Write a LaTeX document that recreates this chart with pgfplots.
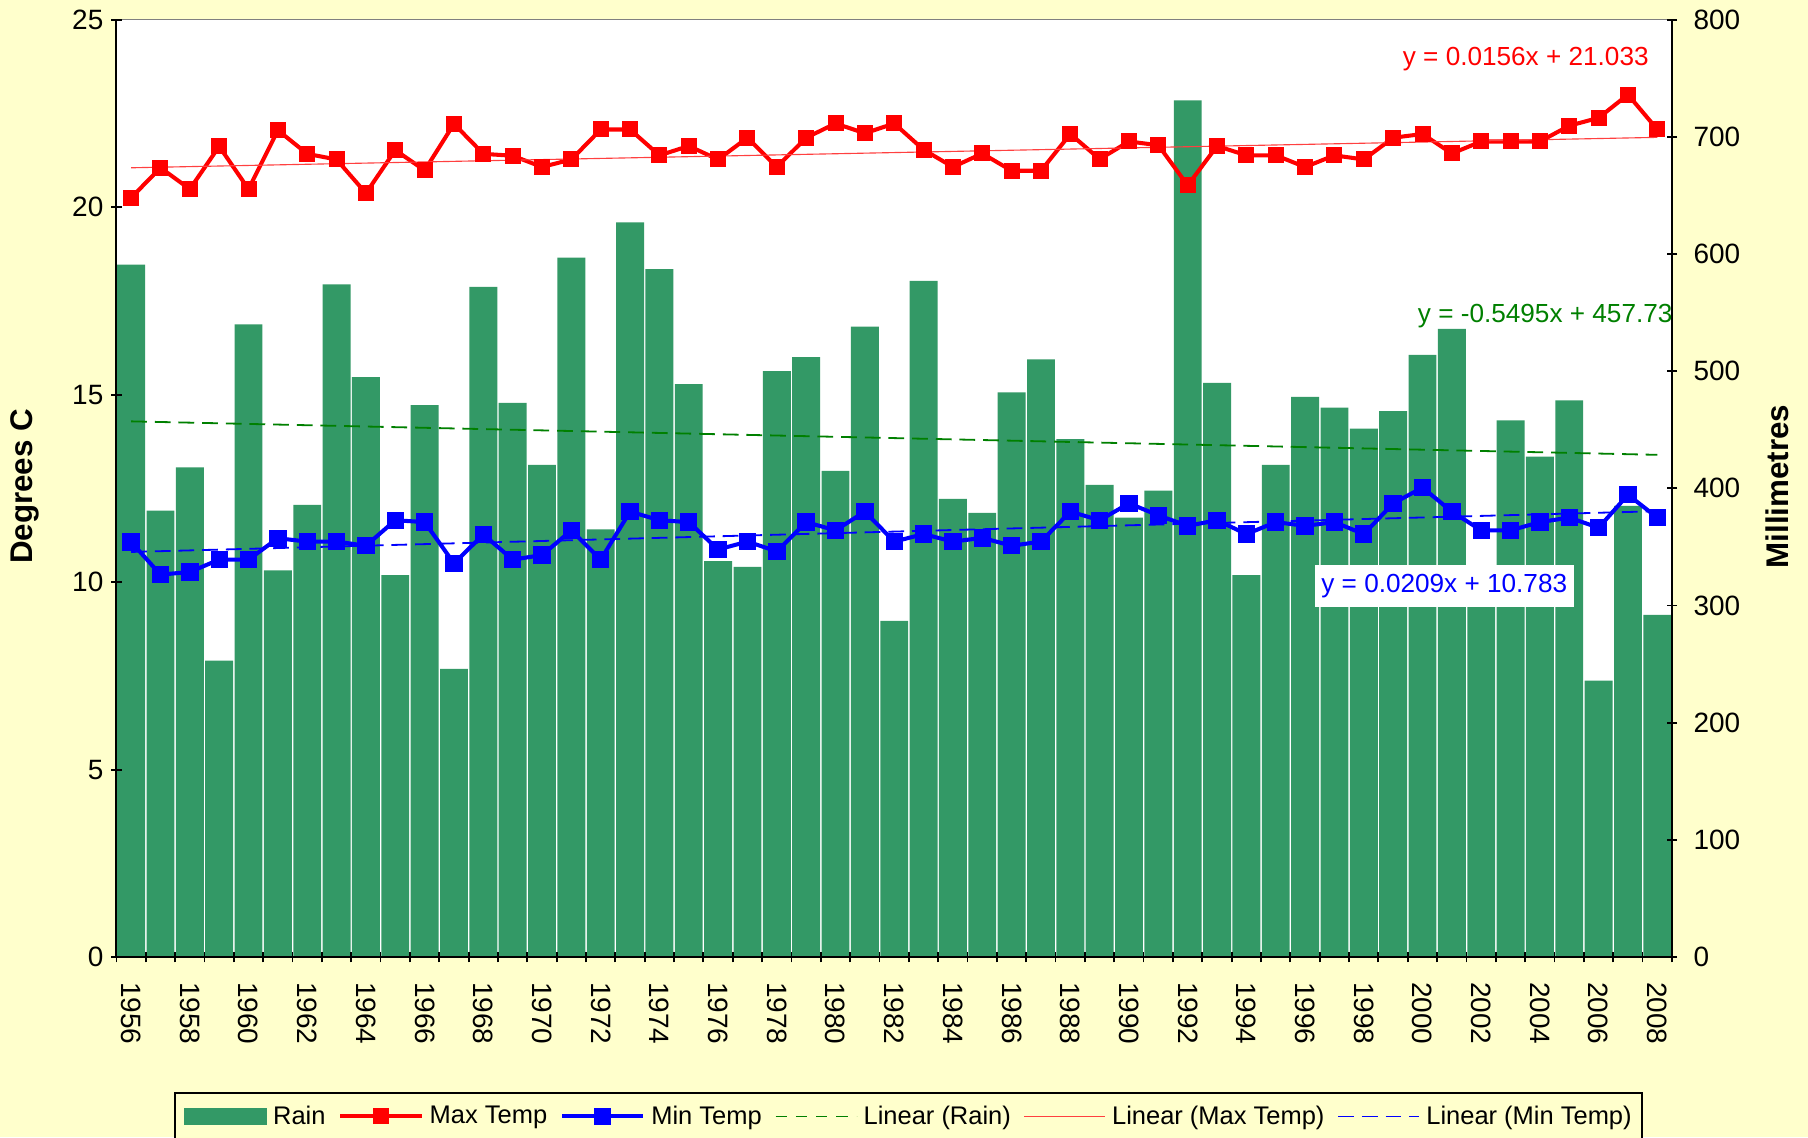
\documentclass[border=0pt]{standalone}
\usepackage{fontspec}
\setmainfont{Liberation Sans}
\usepackage{pgfplots}
\pgfplotsset{compat=1.18}

\definecolor{bgyellow}{HTML}{FFFFCC}
\definecolor{raingreen}{HTML}{339966}
\definecolor{trendgreen}{HTML}{008000}
\definecolor{maxred}{HTML}{FF0000}
\definecolor{minblue}{HTML}{0000FF}

\pgfplotsset{
  every non boxed x axis/.append style={x axis line style={-}},
  every non boxed y axis/.append style={y axis line style={-}},
  common/.style={
    at={(0,0)}, anchor=south west,
    scale only axis, width=690pt, height=415.85pt,
    xmin=1955.5, xmax=2008.5,
    tick align=outside,
    major tick length=4.6pt,
    minor tick length=4.6pt,
    tick style={black, line width=0.8pt},
    minor tick style={black, line width=0.8pt},
    /pgf/number format/assume math mode=true,
    tick label style={font=\fontsize{12.4}{14}\selectfont},
  },
  nolines/.style={
    axis line style={black, line width=0.9pt, -},
    x axis line style={-}, y axis line style={-},
    every outer x axis line/.append style={-},
    every outer y axis line/.append style={-},
  },
}

\begin{document}
\begin{tikzpicture}
\fill[bgyellow] (-51.66pt,-79.8pt) rectangle (750.34pt,424.55pt);

% rain, right axis
\begin{axis}[common,
  ymin=0, ymax=800, ytick={0,100,...,800},
  axis x line=bottom, axis y line=right,
  nolines,
  axis on top,
  axis background/.style={fill=white},
  xtick={1956,1958,...,2008},
  minor xtick={1955.5,1956.5,...,2008.5},
  every major x tick/.append style={draw=none},
  xticklabel style={rotate=-90, anchor=west, inner xsep=8.7pt, /pgf/number format/1000 sep={}},
  yticklabel style={inner xsep=7.1pt},
  ylabel={Millimetres},
  every axis y label/.style={at={(axis description cs:1.0675,0.502)}, rotate=90, anchor=center,
    font=\fontsize{13.9}{16}\selectfont\bfseries},
]
\addplot[ybar, bar width=0.95, bar shift=0pt, fill=raingreen, draw=none] coordinates {
  (1956,591) (1957,381) (1958,418) (1959,253) (1960,540)
  (1961,330) (1962,386) (1963,574) (1964,495) (1965,326)
  (1966,471) (1967,246) (1968,572) (1969,473) (1970,420)
  (1971,597) (1972,365) (1973,627) (1974,587) (1975,489)
  (1976,338) (1977,333) (1978,500) (1979,512) (1980,415)
  (1981,538) (1982,287) (1983,577) (1984,391) (1985,379)
  (1986,482) (1987,510) (1988,442) (1989,403) (1990,375)
  (1991,398) (1992,731) (1993,490) (1994,326) (1995,420)
  (1996,478) (1997,469) (1998,451) (1999,466) (2000,514)
  (2001,536) (2002,310) (2003,458) (2004,427) (2005,475)
  (2006,236) (2007,385) (2008,292)
};
\addplot[trendgreen, line width=0.8pt, dash pattern=on 7pt off 3.5pt] coordinates {
  (1956,457.18) (2008,428.61)
};
\draw[gray, line width=0.7pt] (rel axis cs:0,1) -- (rel axis cs:1,1);
\end{axis}

% temperatures, left axis
\begin{axis}[common,
  ymin=0, ymax=25, ytick={0,5,...,25},
  axis x line=none, axis y line=left,
  nolines,
  ylabel={Degrees C},
  every axis y label/.style={at={(axis description cs:-0.0586,0.502)}, rotate=90, anchor=center,
    font=\fontsize{13.9}{16}\selectfont\bfseries},
  legend columns=6,
  legend image code/.code={\draw[mark repeat=2,mark phase=2,#1] plot coordinates {(0pt,0pt) (18pt,0pt) (36pt,0pt)};},
  legend style={
    at={(0.509,-0.1439)}, anchor=north,
    draw=black, line width=1pt, fill=bgyellow,
    font=\fontsize{11.3}{13}\selectfont,
    inner xsep=4pt, inner ysep=5pt,
    nodes={inner sep=0.5pt},
    /tikz/every odd column/.append style={column sep=2.2pt},
    /tikz/every even column/.append style={column sep=5.2pt},
  },
]
\addlegendimage{legend image code/.code={\fill[raingreen] (0pt,-3.35pt) rectangle (36pt,3.35pt);}}
\addlegendentry{Rain}
\addplot[maxred, line width=1.8pt, mark=square*, mark size=3.3pt, mark options={line width=0.5pt}] coordinates {
  (1956,20.25) (1957,21.05) (1958,20.48) (1959,21.62) (1960,20.48)
  (1961,22.05) (1962,21.42) (1963,21.27) (1964,20.37) (1965,21.52)
  (1966,20.98) (1967,22.22) (1968,21.42) (1969,21.37) (1970,21.07)
  (1971,21.27) (1972,22.07) (1973,22.07) (1974,21.38) (1975,21.63)
  (1976,21.27) (1977,21.85) (1978,21.07) (1979,21.85) (1980,22.23)
  (1981,21.97) (1982,22.23) (1983,21.53) (1984,21.07) (1985,21.43)
  (1986,20.97) (1987,20.97) (1988,21.95) (1989,21.28) (1990,21.75)
  (1991,21.65) (1992,20.58) (1993,21.63) (1994,21.38) (1995,21.38)
  (1996,21.07) (1997,21.38) (1998,21.27) (1999,21.85) (2000,21.95)
  (2001,21.43) (2002,21.75) (2003,21.75) (2004,21.75) (2005,22.17)
  (2006,22.38) (2007,23.00) (2008,22.07)
};
\addlegendentry{Max Temp}
\addplot[minblue, line width=1.8pt, mark=square*, mark size=3.6pt, mark options={line width=0.5pt}] coordinates {
  (1956,11.07) (1957,10.20) (1958,10.27) (1959,10.60) (1960,10.60)
  (1961,11.17) (1962,11.08) (1963,11.08) (1964,10.97) (1965,11.65)
  (1966,11.60) (1967,10.50) (1968,11.27) (1969,10.60) (1970,10.72)
  (1971,11.38) (1972,10.60) (1973,11.88) (1974,11.65) (1975,11.60)
  (1976,10.87) (1977,11.08) (1978,10.82) (1979,11.60) (1980,11.38)
  (1981,11.88) (1982,11.08) (1983,11.28) (1984,11.08) (1985,11.18)
  (1986,10.97) (1987,11.08) (1988,11.88) (1989,11.65) (1990,12.10)
  (1991,11.78) (1992,11.50) (1993,11.65) (1994,11.28) (1995,11.60)
  (1996,11.50) (1997,11.60) (1998,11.28) (1999,12.10) (2000,12.52)
  (2001,11.88) (2002,11.38) (2003,11.38) (2004,11.60) (2005,11.72)
  (2006,11.45) (2007,12.33) (2008,11.72)
};
\addlegendentry{Min Temp}
\addlegendimage{trendgreen, line width=0.8pt, dash pattern=on 5pt off 4pt}
\addlegendentry{Linear (Rain)}
\addplot[maxred!75, line width=0.5pt] coordinates {
  (1956,21.049) (2008,21.860)
};
\addlegendentry{Linear (Max Temp)}
\addplot[minblue, line width=0.8pt, dash pattern=on 7pt off 3.5pt] coordinates {
  (1956,10.804) (2008,11.891)
};
\addlegendentry{Linear (Min Temp)}

\node[maxred, font=\fontsize{11.6}{14}\selectfont, anchor=center] at (rel axis cs:0.906,0.958) {y = 0.0156x + 21.033};
\node[trendgreen, font=\fontsize{11.6}{14}\selectfont, anchor=center] at (rel axis cs:0.9185,0.684) {y = -0.5495x + 457.73};
\node[minblue, fill=white, inner xsep=3pt, inner ysep=4pt, font=\fontsize{11.6}{14}\selectfont, anchor=center] at (rel axis cs:0.8536,0.396) {y = 0.0209x + 10.783};
\end{axis}

\pgfresetboundingbox
\path (-51.66pt,-79.8pt) rectangle (750.34pt,424.55pt);
\end{tikzpicture}
\end{document}
